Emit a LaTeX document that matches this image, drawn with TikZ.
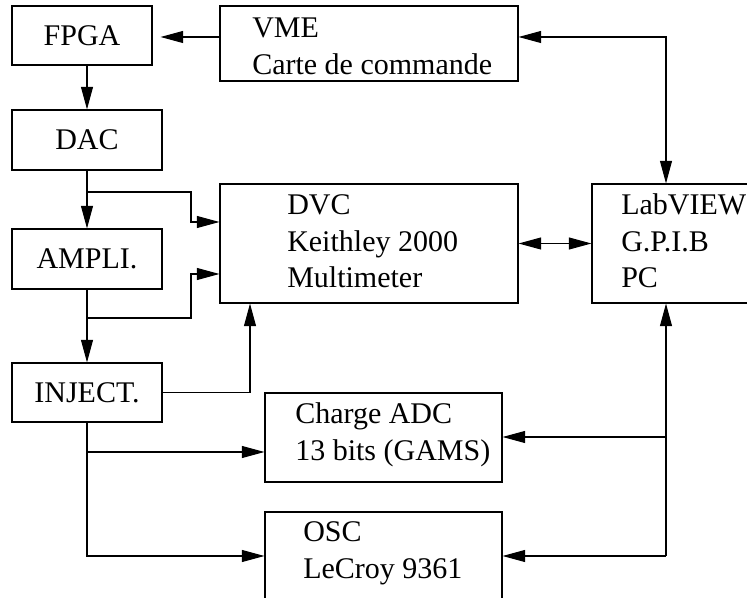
\documentclass[tikz,border=0pt]{standalone}
\usepackage{fontspec}
\setmainfont{Liberation Serif}
\usetikzlibrary{arrows.meta, positioning, calc}

\begin{document}
\begin{tikzpicture}[
  x=0.75pt, y=-0.75pt,
  head/.tip={Triangle[length=17pt,width=9pt]},
  unit/.style={rectangle, draw, line width=0.8pt, inner sep=0pt, font=\fontsize{22.5}{27.5}\selectfont},
  caption/.style={anchor=north west, inner sep=0pt, align=left, font=\fontsize{22.5}{27.5}\selectfont},
  link/.style={line width=0.8pt, -head},
  dlink/.style={line width=0.8pt, head-head}
]
\useasboundingbox (0,0) rectangle (747,598);
\clip (0,0) rectangle (747,598);

% boxes
\node[unit, minimum width=105pt,    minimum height=44.25pt] (fpga)    at (82,35.5)    {FPGA};
\node[unit, minimum width=112.5pt,  minimum height=45pt]    (dac)     at (87,140)     {DAC};
\node[unit, minimum width=112.5pt,  minimum height=45pt]    (ampli)   at (87,259)     {AMPLI.};
\node[unit, minimum width=112.5pt,  minimum height=44.25pt] (inject)  at (87,392.5)   {INJECT.};
\node[unit, minimum width=223.5pt,  minimum height=56.25pt] (vme)     at (369,43.5)   {};
\node[unit, minimum width=223.5pt,  minimum height=89.25pt] (dvc)     at (369,243.5)  {};
\node[unit, minimum width=156pt,    minimum height=89.25pt] (labview) at (696,243.5)  {};
\node[unit, minimum width=177.75pt, minimum height=66.75pt] (adc)     at (383.5,437.5) {};
\node[unit, minimum width=177.75pt, minimum height=96pt]    (osc)     at (383.5,576)  {};

% texts
\node[caption] (vmetext)     at (252,18)    {VME\\Carte de commande};
\node[caption] (dvctext)     at (287,194.5) {DVC\\Keithley 2000\\Multimeter};
\node[caption] (labviewtext) at (621,193.5) {LabVIEW\\G.P.I.B\\PC};
\node[caption] (adctext)     at (295,402.5) {Charge ADC\\13 bits (GAMS)};
\node[caption] (osctext)     at (303,521.5) {OSC\\LeCroy 9361};

% junctions
\coordinate (dacsplit)   at (87,192);
\coordinate (amplisplit) at (87,318);
\coordinate (injsplit)   at (87,452);
\coordinate (injcorner)  at (87,556);
\coordinate (vmecorner)  at (666,37);
\coordinate (pcsplit)    at (666,437);
\coordinate (pccorner)   at (666,556);

% chain
\draw[link, shorten >=6pt] (vme.west |- vmecorner) -- (fpga.east |- vmecorner);
\draw[link] (fpga.south -| dac) -- (dac.north);
\draw[link] (dac) -- (ampli);
\draw[link] (ampli) -- (inject);
\draw[link] (dacsplit) -| (191,222) -- ([yshift=16.125pt]dvc.west);
\draw[link] (amplisplit) -| (191,274) -- ([yshift=-22.875pt]dvc.west);
\draw[link] (inject.east) -| ([xshift=-89.25pt]dvc.south);
\draw[link] (inject) -- (injcorner) -- (injcorner -| osc.west);
\draw[link] (injsplit) -- (injsplit -| adc.west);

% PC side
\draw[dlink] (vme.east |- vmecorner) -- (vmecorner) -- (vmecorner |- labview.north);
\draw[dlink] (dvc) -- (labview);
\draw[link] (pccorner) -- (pccorner |- labview.south);
\draw[link] (pcsplit) -- (pcsplit -| adc.east);
\draw[link] (pccorner) -- (pccorner -| osc.east);
\end{tikzpicture}
\end{document}
